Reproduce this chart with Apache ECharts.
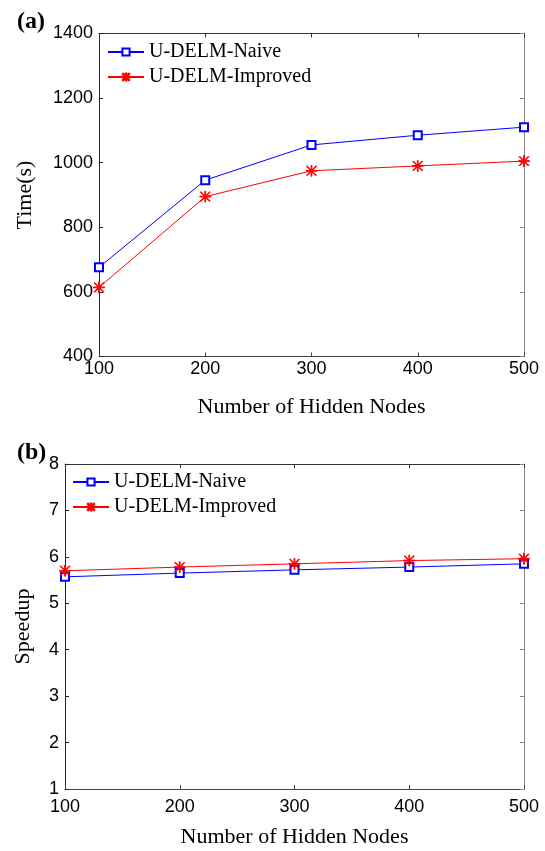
<!DOCTYPE html>
<html lang="en">
<head>
    <meta charset="UTF-8">
    <title>U-DELM time and speedup</title>
    <script src="https://cdn.jsdelivr.net/npm/echarts@6/dist/echarts.min.js"></script>
    <style>
        html, body { margin: 0; padding: 0; background: #fff; }
        #main { width: 545px; height: 851px; }
    </style>
</head>
<body>
<div id="main"></div>
<script>
    // 数据
    var hiddenNodes = [100, 200, 300, 400, 500];
    var timeNaive = [676, 946, 1055, 1085, 1110];
    var timeImproved = [614, 895, 975, 990, 1005];
    var speedNaive = [5.57, 5.65, 5.72, 5.78, 5.85];
    var speedImproved = [5.70, 5.78, 5.85, 5.92, 5.96];
    var seriesNames = ['U-DELM-Naive', 'U-DELM-Improved'];

    function pairs(xs, ys) {
        return xs.map(function (x, i) { return [x, ys[i]]; });
    }

    // MATLAB 的 '*' 标记（细线）
    var starPath = 'path://M9.3 0H10.7V20H9.3Z M0 9.3H20V10.7H0Z ' +
        'M2.0 1.0L19.0 18.0L18.0 19.0L1.0 2.0Z M18.0 1.0L19.0 2.0L2.0 19.0L1.0 18.0Z';

    var sans = 'Liberation Sans, Arial, sans-serif';
    var serif = 'Liberation Serif, Times New Roman, serif';

    function plain(v) { return String(v); }

    function xBottom(grid, margin, nameGap) {
        return {
            gridIndex: grid, type: 'value', min: 100, max: 500, interval: 100, position: 'bottom',
            name: 'Number of Hidden Nodes', nameLocation: 'middle', nameGap: nameGap,
            nameTextStyle: { fontFamily: serif, fontSize: 22, color: '#000' },
            axisLine: { lineStyle: { color: '#444', width: 1 } },
            axisTick: { inside: true, length: 4, lineStyle: { color: '#444' } },
            axisLabel: { margin: margin, fontFamily: sans, fontSize: 18, color: '#000', formatter: plain },
            splitLine: { show: false }
        };
    }
    function xTop(grid) {
        return {
            gridIndex: grid, type: 'value', min: 100, max: 500, interval: 100, position: 'top',
            axisLine: { lineStyle: { color: '#333', width: 1 } },
            axisTick: { inside: true, length: 4, lineStyle: { color: '#333' } },
            axisLabel: { show: false }, splitLine: { show: false }
        };
    }
    function yLeft(grid, min, max, step, name, nameGap) {
        return {
            gridIndex: grid, type: 'value', min: min, max: max, interval: step, position: 'left',
            name: name, nameLocation: 'middle', nameGap: nameGap, nameRotate: 90,
            nameTextStyle: { fontFamily: serif, fontSize: 22, color: '#000' },
            axisLine: { show: true, lineStyle: { color: '#222', width: 1 } },
            axisTick: { show: true, inside: true, length: 4, lineStyle: { color: '#222' } },
            axisLabel: { margin: 6, fontFamily: sans, fontSize: 18, color: '#000', formatter: plain },
            splitLine: { show: false }
        };
    }
    function yRight(grid, min, max, step) {
        return {
            gridIndex: grid, type: 'value', min: min, max: max, interval: step, position: 'right',
            axisLine: { show: true, lineStyle: { color: '#888', width: 1 } },
            axisTick: { show: true, inside: true, length: 4, lineStyle: { color: '#888' } },
            axisLabel: { show: false }, splitLine: { show: false }
        };
    }
    function lineSeries(name, xi, yi, data, color, symbol, size) {
        return {
            name: name, type: 'line', xAxisIndex: xi, yAxisIndex: yi,
            data: data, symbol: symbol, symbolSize: size, showSymbol: true,
            lineStyle: { color: color, width: 1 },
            itemStyle: { color: color, borderColor: color, borderWidth: 1 },
            animation: false
        };
    }
    function legendAt(left, top) {
        return {
            data: seriesNames, orient: 'vertical', left: left, top: top, padding: 0,
            itemWidth: 36, itemHeight: 9, itemGap: 5,
            textStyle: { fontFamily: serif, fontSize: 20, color: '#000' },
            selectedMode: false
        };
    }

    var myChart = echarts.init(document.getElementById('main'), null, { renderer: 'canvas' });

    var option = {
        backgroundColor: '#fff',
        animation: false,
        grid: [
            { left: 99, top: 33.5, right: 21, height: 323 },
            { left: 65, top: 464, right: 21, height: 325 }
        ],
        legend: [legendAt(107, 42), legendAt(72, 472)],
        xAxis: [xBottom(0, 4, 40), xTop(0), xBottom(1, 9, 37), xTop(1)],
        yAxis: [
            yLeft(0, 400, 1400, 200, 'Time(s)', 63), yRight(0, 400, 1400, 200),
            yLeft(1, 1, 8, 1, 'Speedup', 31), yRight(1, 1, 8, 1)
        ],
        graphic: [
            { type: 'text', left: 17, top: 10, style: { text: '(a)', fontFamily: serif, fontWeight: 'bold', fontSize: 24, fill: '#000' } },
            { type: 'text', left: 17, top: 441, style: { text: '(b)', fontFamily: serif, fontWeight: 'bold', fontSize: 24, fill: '#000' } }
        ],
        series: [
            lineSeries(seriesNames[0], 0, 0, pairs(hiddenNodes, timeNaive), '#0000ff', 'emptyRect', 8),
            lineSeries(seriesNames[1], 0, 0, pairs(hiddenNodes, timeImproved), '#ff0000', starPath, 11),
            lineSeries(seriesNames[0], 2, 2, pairs(hiddenNodes, speedNaive), '#0000ff', 'emptyRect', 8),
            lineSeries(seriesNames[1], 2, 2, pairs(hiddenNodes, speedImproved), '#ff0000', starPath, 11)
        ]
    };

    myChart.setOption(option);
</script>
</body>
</html>
